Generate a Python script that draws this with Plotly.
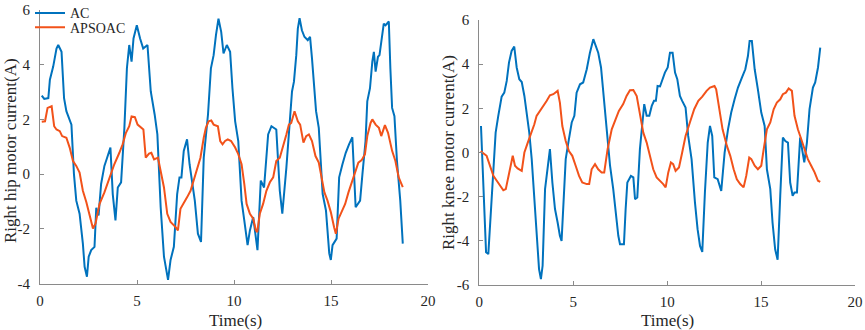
import plotly.graph_objects as go

# ---------------- data: left panel (right hip) ----------------
hip_ac_t = [0.09,0.22,0.43,0.51,0.68,0.85,0.94,1.11,1.24,1.36,1.62,1.75,1.87,2.04,2.21,2.30,2.42,2.51,2.64,2.81,
            2.90,3.02,3.15,3.32,3.46,3.63,3.75,3.89,4.01,4.18,4.35,4.48,4.60,4.72,4.82,4.99,5.16,5.32,5.54,5.71,
            5.91,6.05,6.22,6.30,6.39,6.60,6.73,6.90,7.07,7.19,7.29,7.41,7.58,7.71,7.87,7.98,8.14,8.30,8.44,8.66,
            8.81,8.95,9.07,9.20,9.34,9.46,9.63,9.80,9.92,10.06,10.22,10.39,10.53,10.70,10.82,10.99,11.21,11.38,11.55,11.76,
            11.93,12.18,12.36,12.49,12.70,12.87,12.99,13.09,13.21,13.29,13.38,13.50,13.63,13.80,13.92,14.02,14.23,14.37,14.57,14.74,
            14.91,14.99,15.08,15.29,15.42,15.59,15.76,15.93,16.10,16.27,16.50,16.62,16.78,16.87,17.01,17.13,17.21,17.30,17.42,17.50,
            17.64,17.72,17.81,17.98,18.06,18.15,18.27,18.40,18.57,18.70]
hip_ac_v = [2.87,2.75,2.78,3.45,3.93,4.59,4.72,4.47,2.78,2.30,1.81,0.00,-0.97,-1.45,-2.54,-3.39,-3.75,-3.02,-2.78,-2.66,
            -1.23,-1.51,-0.36,0.30,0.60,0.97,-0.73,-1.69,-0.49,-0.30,1.69,3.87,4.72,4.11,4.96,5.44,4.96,4.59,4.72,3.02,
            2.18,1.45,-1.21,-1.94,-3.02,-3.87,-3.14,-2.66,-0.73,-0.12,-0.12,0.85,1.27,0.36,-0.36,-0.97,-2.18,-2.48,0.60,2.18,
            3.87,4.35,5.08,5.68,5.20,4.41,4.72,4.47,3.14,1.93,1.21,-0.97,-1.69,-2.60,-2.06,-1.57,-2.78,-0.24,-0.49,1.45,
            1.75,1.63,-0.61,-1.45,0.24,1.69,3.02,3.38,4.35,5.32,5.70,5.26,5.02,4.90,5.02,4.23,2.30,1.69,-0.73,-1.33,
            -2.90,-3.14,-2.60,-2.36,-0.12,0.36,0.78,1.09,1.35,-1.21,-0.97,0.00,1.21,2.66,3.14,4.11,4.47,3.75,4.29,4.35,
            5.20,5.50,5.44,5.58,3.87,2.42,2.12,0.48,-0.97,-2.54]

hip_aps_t = [0.09,0.26,0.39,0.60,0.73,0.85,1.02,1.14,1.36,1.53,1.70,1.87,2.04,2.21,2.39,2.56,2.73,2.86,3.07,3.32,
             3.58,3.83,4.09,4.26,4.43,4.60,4.72,4.89,5.03,5.20,5.33,5.45,5.62,5.74,5.88,6.08,6.25,6.39,6.56,6.73,
             6.99,7.11,7.24,7.41,7.58,7.76,7.93,8.10,8.27,8.44,8.55,8.69,8.83,8.95,9.17,9.29,9.41,9.54,9.68,9.85,
             10.06,10.22,10.39,10.53,10.65,10.82,10.99,11.13,11.20,11.33,11.50,11.67,11.85,12.02,12.18,12.36,12.52,12.70,12.83,12.95,
             13.12,13.29,13.41,13.58,13.72,13.86,14.02,14.20,14.37,14.48,14.66,14.82,14.99,15.16,15.25,15.39,15.56,15.73,15.90,16.10,
             16.27,16.41,16.58,16.75,16.87,17.04,17.13,17.30,17.47,17.59,17.78,17.94,18.15,18.32,18.49,18.70]
hip_aps_v = [1.91,1.93,2.42,2.48,1.75,1.63,1.57,1.39,1.33,0.97,0.48,0.30,0.06,-0.61,-1.03,-1.57,-1.99,-1.81,-1.09,-0.67,
             -0.12,0.36,0.78,1.09,1.51,1.75,2.11,2.08,1.81,1.69,1.63,0.60,0.75,0.78,0.54,0.60,0.00,-0.49,-1.45,-1.75,
             -1.94,-2.06,-1.27,-1.03,-0.85,-0.61,-0.18,0.18,0.60,1.33,1.69,1.93,1.96,1.81,1.75,1.21,1.09,1.21,1.27,1.21,
             0.97,0.73,0.36,-0.36,-1.09,-1.45,-1.63,-2.06,-2.12,-1.45,-1.09,-0.61,-0.30,-0.12,0.48,0.60,0.97,1.45,1.81,1.87,
             2.30,1.93,1.81,1.15,1.39,1.45,1.21,0.66,0.42,0.00,-0.67,-0.97,-1.39,-1.94,-2.18,-1.63,-1.33,-1.09,-0.67,-0.24,
             0.12,0.42,0.51,0.73,1.39,1.87,2.00,1.81,1.69,1.39,1.79,1.51,0.85,0.48,-0.12,-0.48]

# ---------------- data: right panel (right knee) ----------------
knee_ac_t = [0.09,0.16,0.27,0.36,0.48,0.57,0.75,0.87,1.01,1.19,1.33,1.46,1.58,1.72,1.86,1.99,2.13,2.26,2.40,2.52,
             2.66,2.79,2.93,3.05,3.18,3.28,3.37,3.50,3.64,3.76,3.89,4.03,4.17,4.29,4.38,4.47,4.60,4.74,4.92,5.06,
             5.18,5.36,5.53,5.72,5.89,6.07,6.19,6.33,6.48,6.65,6.83,6.96,7.13,7.26,7.40,7.49,7.70,7.79,7.88,8.07,
             8.20,8.29,8.41,8.55,8.68,8.78,8.91,9.05,9.18,9.30,9.40,9.49,9.62,9.76,9.88,10.03,10.15,10.29,10.42,10.54,
             10.68,10.80,10.98,11.12,11.30,11.48,11.62,11.75,11.87,12.01,12.16,12.28,12.40,12.51,12.69,12.88,13.06,13.24,13.41,13.59,
             13.77,13.98,14.16,14.30,14.39,14.51,14.66,14.83,15.01,15.19,15.31,15.49,15.61,15.75,15.88,16.02,16.16,16.29,16.43,16.55,
             16.68,16.78,16.91,17.08,17.17,17.30,17.44,17.58,17.76,17.88,18.03,18.15]
knee_ac_v = [1.20,-0.30,-2.87,-4.52,-4.60,-3.32,-0.45,0.90,1.66,2.53,2.71,3.24,4.07,4.60,4.80,3.85,3.32,3.19,2.56,1.81,
             0.90,-0.30,-1.96,-3.77,-5.28,-5.73,-5.13,-1.66,-0.60,0.15,-1.36,-2.56,-3.17,-3.77,-4.00,-2.26,-0.30,0.45,1.36,1.66,
             2.71,3.09,3.17,3.77,4.52,5.13,4.82,4.52,3.85,2.26,0.75,-0.60,-1.66,-2.71,-3.77,-4.15,-4.15,-2.56,-1.36,-1.06,
             -1.13,-2.11,-2.04,0.15,1.51,2.19,1.66,1.66,2.11,2.34,2.34,3.01,2.99,3.32,3.62,3.85,4.52,4.52,3.62,3.32,
             2.56,2.34,2.04,0.75,-0.30,-2.26,-3.47,-4.23,-4.50,-1.81,0.45,1.20,0.75,-1.13,-1.21,-1.74,0.00,1.05,1.81,2.41,
             2.94,3.39,3.77,4.37,5.05,5.05,3.77,2.86,1.81,1.20,-0.76,-1.66,-3.17,-4.38,-4.86,-1.96,0.68,0.52,0.45,-1.36,
             -1.96,-1.81,-1.81,0.68,0.15,-0.45,0.45,1.96,2.94,3.17,3.85,4.75]

knee_aps_t = [0.09,0.16,0.39,0.57,0.75,0.93,1.10,1.28,1.41,1.54,1.69,1.78,1.90,2.04,2.26,2.40,2.58,2.75,2.93,3.05,
              3.23,3.41,3.59,3.76,3.94,4.17,4.29,4.42,4.60,4.77,4.95,5.13,5.31,5.48,5.72,5.85,5.98,6.16,6.33,6.51,
              6.65,6.83,7.05,7.26,7.43,7.66,7.84,8.02,8.20,8.38,8.55,8.73,8.91,9.08,9.26,9.44,9.62,9.79,9.92,10.06,
              10.20,10.32,10.45,10.63,10.80,10.98,11.21,11.44,11.66,11.87,12.10,12.28,12.45,12.52,12.61,12.77,12.95,13.18,13.36,13.54,
              13.71,13.89,14.07,14.21,14.37,14.48,14.66,14.83,15.01,15.14,15.31,15.49,15.67,15.84,16.02,16.16,16.32,16.47,16.64,16.78,
              16.96,17.14,17.32,17.49,17.67,17.85,18.03,18.15]
knee_aps_v = [0.07,0.00,-0.15,-0.60,-1.06,-1.28,-1.51,-1.71,-1.66,-1.13,-0.53,-0.15,-0.60,-0.72,-0.83,0.00,0.45,0.83,1.28,1.66,
              1.88,2.11,2.34,2.59,2.64,2.79,2.26,1.20,0.52,0.07,-0.15,-0.60,-1.06,-1.36,-1.43,-1.43,-0.76,-0.53,-0.76,-0.90,
              -0.90,0.15,1.05,1.51,1.88,2.19,2.56,2.82,2.83,2.56,1.81,0.90,0.45,-0.15,-0.76,-1.13,-1.28,-1.43,-1.58,-0.90,
              -0.45,-0.53,-0.83,-0.68,0.00,0.75,1.36,1.96,2.34,2.53,2.79,2.94,2.99,3.01,2.86,1.96,1.05,0.30,-0.15,-0.76,
              -1.21,-1.43,-1.58,-1.06,-0.23,-0.30,-0.60,-0.76,-0.60,0.15,1.05,1.36,1.96,2.26,2.41,2.64,2.71,2.90,2.79,1.66,
              1.05,0.60,0.15,-0.30,-0.60,-0.90,-1.28,-1.33]

series_names = ["AC", "APSOAC"]
x_ticks = [0, 5, 10, 15, 20]
x_ticktext = ["0", "5", "10", "15", "20"]
hip_y_ticks = [-4, -2, 0, 2, 4, 6]
hip_y_ticktext = ["-4", "-2", "0", "2", "4", "6"]
knee_y_ticks = [-6, -4, -2, 0, 2, 4, 6]
knee_y_ticktext = ["-6", "-4", "-2", "0", "2", "4", "6"]
x_title = "Time(s)"
hip_y_title = "Right hip motor current(A)"
knee_y_title = "Right knee motor current(A)"

# ---------------- styling ----------------
BLUE = "#0072BD"
ORANGE = "#F2521A"
FONT = "Times New Roman, Liberation Serif, serif"
AXCOL = "#8a8a8a"
TXTCOL = "#262626"
W, H = 865, 330

fig = go.Figure()
fig.add_trace(go.Scatter(x=hip_ac_t, y=hip_ac_v, mode="lines", name=series_names[0], legend="legend",
                         line=dict(color=BLUE, width=2), xaxis="x", yaxis="y"))
fig.add_trace(go.Scatter(x=hip_aps_t, y=hip_aps_v, mode="lines", name=series_names[1], legend="legend2",
                         line=dict(color=ORANGE, width=2), xaxis="x", yaxis="y"))
fig.add_trace(go.Scatter(x=knee_ac_t, y=knee_ac_v, mode="lines", name=series_names[0], showlegend=False,
                         line=dict(color=BLUE, width=2), xaxis="x2", yaxis="y2"))
fig.add_trace(go.Scatter(x=knee_aps_t, y=knee_aps_v, mode="lines", name=series_names[1], showlegend=False,
                         line=dict(color=ORANGE, width=2), xaxis="x2", yaxis="y2"))

def px_x(p):
    return p / W

def px_y(p):
    return (H - p) / H

common = dict(showgrid=False, zeroline=False, showline=True, linecolor=AXCOL, linewidth=1,
              ticks="inside", ticklen=4, tickcolor=AXCOL, tickwidth=1, automargin=False,
              tickfont=dict(family=FONT, size=15, color=TXTCOL), fixedrange=True)

leg_common = dict(xanchor="left", yanchor="middle", bgcolor="rgba(0,0,0,0)", borderwidth=0,
                  font=dict(family=FONT, size=14, color=TXTCOL), itemwidth=30)

fig.update_layout(
    width=W, height=H, margin=dict(l=0, r=0, t=0, b=0, pad=0, autoexpand=False),
    paper_bgcolor="white", plot_bgcolor="white",
    font=dict(family=FONT, color=TXTCOL),
    xaxis=dict(domain=[px_x(40), px_x(428)], range=[0, 20], tickvals=x_ticks, ticktext=x_ticktext,
               anchor="y", ticklabelstandoff=3, **common),
    yaxis=dict(domain=[px_y(283.5), px_y(10)], range=[-4, 6], tickvals=hip_y_ticks, ticktext=hip_y_ticktext,
               anchor="x", ticklabelstandoff=6, **common),
    xaxis2=dict(domain=[px_x(479.3), px_x(855)], range=[0, 20], tickvals=x_ticks, ticktext=x_ticktext,
                anchor="y2", ticklabelstandoff=3, **common),
    yaxis2=dict(domain=[px_y(285), px_y(20)], range=[-6, 6], tickvals=knee_y_ticks, ticktext=knee_y_ticktext,
                anchor="x2", ticklabelstandoff=6, **common),
    showlegend=True,
    legend=dict(x=px_x(30), y=px_y(13.3), **leg_common),
    legend2=dict(x=px_x(30), y=px_y(27.7), **leg_common),
)

ann_font = dict(family=FONT, size=17, color=TXTCOL)
fig.add_annotation(text=x_title, x=px_x(236), y=px_y(320), xref="paper", yref="paper",
                   showarrow=False, font=ann_font, xanchor="center", yanchor="middle")
fig.add_annotation(text=x_title, x=px_x(667), y=px_y(320), xref="paper", yref="paper",
                   showarrow=False, font=ann_font, xanchor="center", yanchor="middle")
fig.add_annotation(text=hip_y_title, x=px_x(11), y=px_y(151), xref="paper", yref="paper",
                   showarrow=False, font=ann_font, textangle=-90, xanchor="center", yanchor="middle")
fig.add_annotation(text=knee_y_title, x=px_x(448), y=px_y(152), xref="paper", yref="paper",
                   showarrow=False, font=ann_font, textangle=-90, xanchor="center", yanchor="middle")

fig.write_html("out.html", config={"displayModeBar": False},
               post_script="document.body.style.margin='0';document.body.style.overflow='hidden';")
